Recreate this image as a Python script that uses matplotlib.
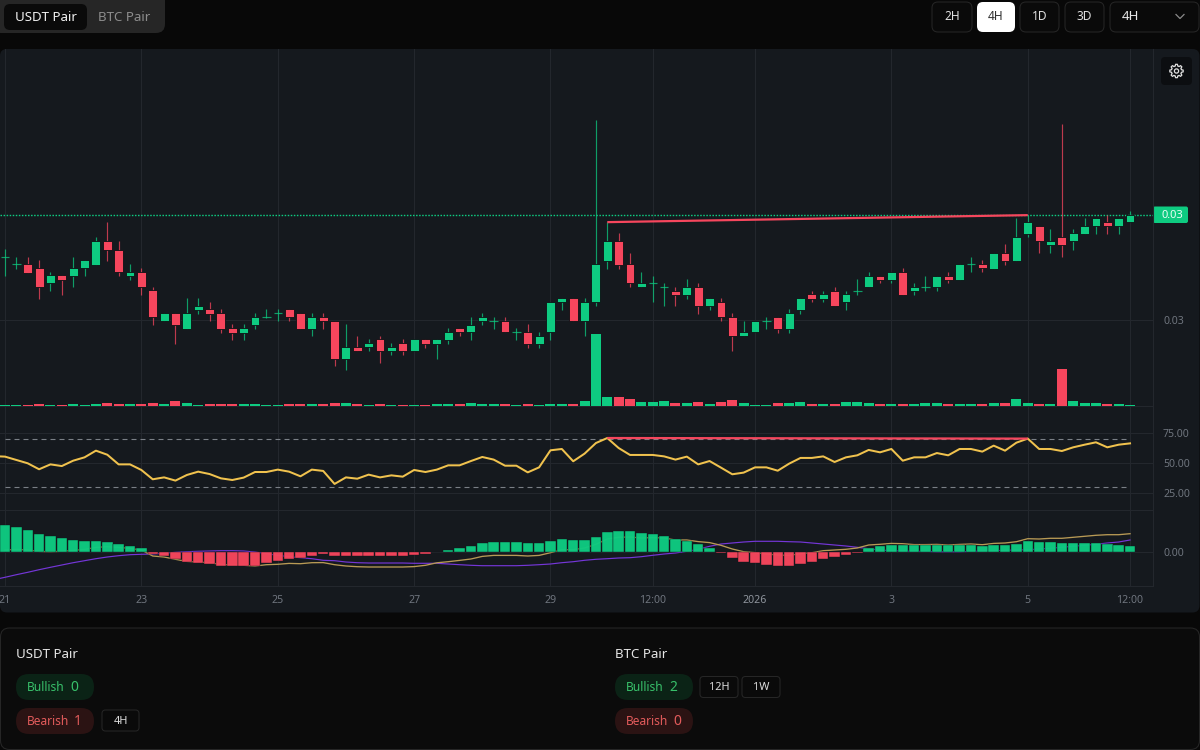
import numpy as np
import matplotlib
matplotlib.use("Agg")
import matplotlib.pyplot as plt
from matplotlib.patches import FancyBboxPatch, Circle, Polygon

# ---- price candles, units of 1e-5 ----
opens = [3063,3056,3056,3052,3037,3045,3044,3052,3055,3079,3070,3044,3048,3030,2999,3007,2991,3010,3011,3007,
         2992,2987,2995,3003,3007,3011,3007,2991,3003,2999,2961,2973,2973,2981,2969,2977,2969,2981,2976,2980,
         2992,2988,2999,2999,2999,2988,2988,2976,2988,3018,3022,2999,3018,3059,3079,3056,3033,3037,3033,3029,
         3025,3033,3014,3018,3003,2984,2988,2999,3003,2991,3010,3026,3021,3029,3018,3029,3033,3044,3040,3048,
         3029,3033,3033,3044,3040,3056,3056,3051,3067,3059,3086,3094,3075,3083,3079,3086,3094,3098,3094,3098]
highs = [3071,3063,3063,3060,3048,3045,3063,3060,3083,3098,3079,3056,3052,3033,3007,3007,3022,3022,3018,3011,
         2996,2996,3007,3011,3011,3011,3007,3007,3007,2999,2996,2984,2981,2984,2977,2981,2981,2981,2981,2992,
         2992,3003,3007,3003,3003,2992,2996,2988,3018,3022,3022,3022,3200,3098,3087,3067,3048,3044,3037,3033,
         3041,3037,3022,3022,3007,2999,2999,3003,3003,3011,3022,3029,3029,3033,3029,3041,3048,3044,3048,3052,
         3037,3044,3044,3048,3056,3063,3060,3067,3076,3102,3105,3094,3091,3196,3091,3102,3102,3105,3102,3109]
lows  = [3044,3051,3047,3021,3029,3025,3033,3044,3055,3059,3044,3040,3025,2995,2999,2976,2991,3006,2999,2987,
         2980,2980,2991,3002,2999,2999,2991,2984,2991,2954,2950,2969,2969,2957,2965,2965,2969,2972,2961,2976,
         2984,2980,2995,2991,2988,2980,2972,2972,2980,3010,2999,2984,3014,3051,3051,3033,3033,3018,3014,3014,
         3021,3006,3010,2999,2969,2984,2988,2991,2987,2987,3006,3018,3018,3014,3010,3025,3033,3037,3037,3025,
         3025,3029,3029,3037,3040,3048,3048,3051,3055,3059,3083,3067,3067,3063,3070,3086,3086,3086,3086,3098]
closes = [3063,3056,3047,3033,3045,3040,3052,3060,3079,3070,3048,3048,3033,3003,3007,2995,3007,3014,3006,2991,
          2987,2992,3003,3003,3007,3003,2991,3003,2999,2961,2973,2969,2977,2969,2973,2969,2981,2976,2981,2988,
          2988,2995,3003,2999,2988,2988,2976,2984,3018,3022,2999,3018,3056,3079,3055,3037,3037,3037,3033,3025,
          3033,3014,3022,3003,2984,2988,2999,2999,2991,3007,3022,3021,3026,3014,3026,3029,3044,3040,3048,3025,
          3033,3033,3044,3040,3056,3056,3052,3067,3059,3083,3098,3079,3079,3075,3087,3094,3102,3094,3102,3105]
volumes = [1,1,1,2,1,1,2,1,2,3,2,2,2,3,2,5,3,1,2,2,2,2,2,1,1,2,2,2,2,3,3,2,1,2,1,1,1,1,2,2,2,3,2,2,2,1,2,1,2,2,2,5,
           72,9,9,7,4,4,5,3,3,4,2,4,6,3,1,1,3,3,4,2,2,2,4,4,3,2,2,2,2,3,3,2,2,2,2,3,3,7,3,2,2,37,5,3,3,2,2,1]
rsi_before = 55.6
rsi = [55.2,52.4,49.6,44.6,48.7,47.3,51.8,54.6,60.2,56.8,48.7,48.7,44.0,36.2,37.8,35.1,39.8,42.6,40.6,37.0,
       35.6,37.6,42.3,42.3,44.3,42.6,38.7,44.3,43.2,32.3,37.8,36.7,40.1,37.8,39.5,38.4,44.0,42.3,44.3,47.9,
       47.9,51.5,54.9,52.7,47.6,47.6,42.0,46.2,60.5,61.6,51.3,57.7,66.6,70.8,62.4,56.6,56.6,56.6,55.4,52.7,
       55.2,48.7,51.5,46.0,40.4,41.8,46.2,46.2,43.4,49.3,54.1,54.1,55.4,50.7,54.6,56.3,60.8,58.8,61.6,51.8,
       54.6,54.6,58.2,56.3,61.6,61.6,59.4,64.4,60.2,66.9,70.3,61.6,61.6,59.9,63.0,65.2,67.2,63.0,65.2,66.3]
hist = [27.3,25.3,22.3,18.3,15.7,13.7,12.3,11.3,11.3,10.3,8.3,6.3,4.3,-2,-3.7,-7,-9.7,-10.7,-11.7,-13.7,
        -14.3,-14.3,-14,-11,-9,-6.7,-6,-4,-2.3,-4,-4,-4,-4,-4,-4,-4,-3.3,-2,0.5,2.3,
        4.3,6.3,9.3,10.3,10.3,10.3,9.3,9.3,11.3,13,12,12.3,15,19.7,20.7,20.7,18.7,17.7,16,13,
        11.3,7.7,3.7,-1.3,-6,-9.7,-11.3,-12.7,-13.7,-13.7,-11.7,-9.7,-6.7,-5,-3.3,-0.7,3.7,5.7,7.3,7.3,
        6.7,6.7,7.3,6.7,7.3,7.3,6.3,7.3,7.3,8.3,11,10,10,9,9,9,9,8.3,7.3,6.3]
signal_before = -27.7
signal = [-25.3,-22.7,-20.3,-17.7,-15.3,-13,-10.7,-8.7,-6.7,-5,-3.7,-2.7,-2.3,-2,-1.3,-0.3,0.3,0.7,1,1.3,
          1.3,1,0,-1.7,-3.3,-4.7,-5.7,-6.7,-8.3,-8.7,-10,-10.7,-11,-11,-11,-11,-11.3,-11.3,-11.3,-12,
          -12.7,-13.3,-13.7,-13.7,-13.7,-13.7,-13.3,-12.7,-12,-10.7,-9.7,-8.3,-7.3,-6.7,-6,-5.7,-4.7,-3.3,-2,-1,
          0.7,2.7,5.7,8,9,10,10.7,10.7,10.7,10.3,10,9,8,7,6,4.7,3.3,2,1.3,1,
          0.7,0.7,0.3,0.3,0.3,0.7,1,1.3,1.7,2,2.3,3,3.7,4.7,5.7,6.7,7.7,9,10,12]
macd = [2,2.6,2,0.6,0.4,0.7,1.6,2.6,4.6,5.3,4.6,3.6,2,-4,-5,-7.3,-9.4,-10,-10.7,-12.4,
        -13,-13.3,-14,-12.7,-12.3,-11.4,-11.7,-10.7,-10.6,-12.7,-14,-14.7,-15,-15,-15,-15,-14.6,-13.3,-10.8,-9.7,
        -8.4,-7,-4.4,-3.4,-3.4,-3.4,-4,-3.4,-0.7,2.3,2.3,4,7.7,13,14.7,15,14,14.4,14,12,
        12,10.4,9.4,6.7,3,0.3,-0.6,-2,-3,-3.4,-1.7,-0.7,1.3,2,2.7,4,7,7.7,8.6,8.3,
        7.4,7.4,7.6,7,7.6,8,7.3,8.6,9,10.3,13.3,13,13.7,13.7,14.7,15.7,16.7,17.3,17.3,18.3]
time_ticks = [0,12,24,36,48,57,66,78,90,99]
time_labels = ['21','23','25','27','29','12:00','2026','3','5','12:00']
last_price = 3105.4
price_ticks = [3000]
rsi_ticks = [25,50,75]
rsi_bands = [70,30]
div_bar_a, div_bar_b = 53, 90

GREEN = '#0ecb81'; RED = '#f6465d'; GOLD = '#f0c24e'; PURPLE = '#7436d8'
MACDGOLD = '#b89a55'
BG = '#080808'; CHART = '#15191e'; GRID = '#23272d'; TICK = '#6f757e'; BORDER = '#262626'
FONT = ['Noto Sans', 'DejaVu Sans']
plt.rcParams['font.family'] = FONT

fig = plt.figure(figsize=(12, 7.5), dpi=100, facecolor=BG)
W, H = 1200, 750

def axes_px(x0, y0, x1, y1, **kw):
    return fig.add_axes([x0/W, 1-y1/H, (x1-x0)/W, (y1-y0)/H], **kw)

# chrome layer in pixel coordinates
ui = fig.add_axes([0, 0, 1, 1], zorder=0)
ui.set_xlim(0, W); ui.set_ylim(H, 0); ui.axis('off')

def box(x0, y0, x1, y1, face, edge='none', r=6, lw=0.75, z=1):
    ui.add_patch(FancyBboxPatch((x0, y0), x1-x0, y1-y0, boxstyle=f'round,pad=0,rounding_size={r}',
                                fc=face, ec=edge, lw=lw, zorder=z, mutation_aspect=1))

def label(x, y, s, color='#e5e5e5', size=9.4, ha='center', **kw):
    ui.text(x, y+1, s, color=color, fontsize=size, ha=ha, va='center', zorder=5, **kw)

# top left toggle
box(-8, -10, 165, 33, '#262626', r=9)
box(4, 4, 87, 30, '#0a0a0a', r=6, z=2)
label(45.5, 16.5, 'USDT Pair', '#f0f0f0', 9.6)
label(124.5, 16.5, 'BTC Pair', '#8c8c8c', 9.6)
# top right buttons
for x0, x1, s in [(932, 972, '2H'), (1020, 1059, '1D'), (1065, 1104, '3D')]:
    box(x0, 2, x1, 32, '#0a0a0a', BORDER, r=6)
    label((x0+x1)/2, 16, s, '#e0e0e0', 8.6)
box(977, 2, 1015, 32, '#ffffff', r=6)
label(996, 16, '4H', '#303030', 8.6)
box(1110, 2, 1199, 32, '#0a0a0a', BORDER, r=6)
label(1122, 16, '4H', '#e8e8e8', 9.6, ha='left')
ui.plot([1176, 1180, 1184], [14.5, 18.5, 14.5], color='#8a8a8a', lw=0.9, zorder=5)

# chart card
box(0, 49, 1199.5, 612.5, CHART, r=7)

# bottom card
box(0.5, 628, 1199.5, 749.5, '#0b0b0b', BORDER, r=9)
def pill(x0, y0, word, value, vx, face, color):
    box(x0, y0, x0+78, y0+26, face, r=13)
    label(x0+11, y0+12.5, word, color, 8.6, ha='left')
    label(x0+vx, y0+12.5, value, color, 10, ha='center')
def chip(x0, x1, y0, s):
    box(x0, y0, x1, y0+21, '#0a0a0a', BORDER, r=3.5)
    label((x0+x1)/2, y0+10, s, '#dcdcdc', 7.9)
label(16, 653.5, 'USDT Pair', '#e5e5e5', 9.6, ha='left')
label(615, 653.5, 'BTC Pair', '#e5e5e5', 9.6, ha='left')
BULL_TXT = '#38c06a'; BEAR_TXT = '#e25b5b'
pill(16, 674, 'Bullish', '0', 58, '#0b2316', BULL_TXT)
pill(16, 708, 'Bearish', '1', 62, '#2b1313', BEAR_TXT)
chip(102, 139, 710, '4H')
pill(615, 674, 'Bullish', '2', 58, '#0b2316', BULL_TXT)
pill(615, 708, 'Bearish', '0', 62, '#2b1313', BEAR_TXT)
chip(700, 738, 676.5, '12H')
chip(742, 780, 676.5, '1W')

# data panels
PX0, PX1 = 0, 1153.3
x_lim = ((PX0-5)/11.364, (PX1-5)/11.364)
idx = np.arange(100)
o, h, l, c = map(np.array, (opens, highs, lows, closes))
up = c >= o
colors = np.where(up, GREEN, RED)

def panel(y0, y1, ylim, z=2):
    ax = axes_px(PX0, y0, PX1, y1, zorder=z)
    ax.patch.set_visible(False)
    ax.set_xlim(*x_lim); ax.set_ylim(*ylim)
    ax.set_xticks(time_ticks)
    ax.grid(True, color=GRID, lw=0.8, zorder=0)
    ax.set_axisbelow(True)
    for s in ('top', 'left'):
        ax.spines[s].set_visible(False)
    for s in ('right', 'bottom'):
        ax.spines[s].set_color(GRID); ax.spines[s].set_linewidth(0.8)
    ax.yaxis.tick_right()
    ax.tick_params(axis='both', length=0, labelcolor=TICK, labelsize=7.6, pad=7)
    ax.tick_params(axis='x', labelbottom=False)
    return ax

ax = panel(49, 406.3, (2914, 3271))
ax.set_yticks(price_ticks)
ax.set_yticklabels([f'{v*1e-5:.2f}' for v in price_ticks])

# volume overlay
vol = axes_px(PX0, 49, PX1, 406.3, zorder=2.5)
vol.patch.set_visible(False); vol.axis('off')
vol.set_xlim(*x_lim); vol.set_ylim(0, 357.3)
vol.bar(idx, volumes, width=0.88, color=colors, linewidth=0)

ax.plot(x_lim, [last_price, last_price], color=GREEN, lw=1.0, ls=(0, (1.1, 1.1)), zorder=1, dash_capstyle='butt')
ax.vlines(idx, l, h, colors=colors, lw=0.85, alpha=0.75, zorder=2)
real = o != c
ax.bar(idx[real], np.abs(c-o)[real], bottom=np.minimum(o, c)[real], width=0.78, color=colors[real],
       edgecolor='#0d1014', linewidth=0.6, zorder=3)
ax.hlines(c[~real], idx[~real]-0.37, idx[~real]+0.37, colors=colors[~real], lw=0.85, alpha=0.75, zorder=3)
ax.plot([div_bar_a, div_bar_b], [h[div_bar_a], h[div_bar_b]], color=RED, lw=1.6, zorder=4,
        solid_capstyle='butt')

# price tag
ui.add_patch(FancyBboxPatch((1153, 206.5), 35, 16.5, boxstyle='round,pad=0,rounding_size=2', fc=GREEN, ec='none', zorder=6))
ui.text(1172.5, 215, f'{last_price*1e-5:.2f}', color='#eafff6', fontsize=8, ha='center', va='center', zorder=7)

# RSI
rx = panel(406.8, 509.5, (75-(509.5-433)/1.193, 75+(433-406.8)/1.193))
rx.set_yticks(rsi_ticks)
rx.set_yticklabels([f'{v:.2f}' for v in rsi_ticks])
for b in rsi_bands:
    rx.plot([idx[0], idx[-1]], [b, b], color='#7a7f86', lw=0.8, ls=(0, (4.5, 3.6)), zorder=1)
rx.plot(np.r_[-1, idx], np.r_[rsi_before, rsi], color=GOLD, lw=1.45, zorder=3, solid_joinstyle='round')
rx.plot([div_bar_a, div_bar_b], [rsi[div_bar_a], rsi[div_bar_b]], color=RED, lw=1.6, zorder=4,
        solid_capstyle='butt')

# MACD
mx = panel(509.5, 586.3, (-34.3, 42.5))
mx.set_yticks([0]); mx.set_yticklabels(['0.00'])
mx.tick_params(axis='x', labelbottom=True, pad=6)
mx.set_xticklabels(time_labels)
for t in mx.get_xticklabels():
    if t.get_text() == '2026':
        t.set_fontweight('bold'); t.set_color('#8f959d')
mx.plot(np.r_[-1, idx], np.r_[signal_before, signal], color=PURPLE, lw=0.85, zorder=2)
mx.plot(idx, macd, color=MACDGOLD, lw=0.95, zorder=2)
hv = np.array(hist)
mx.bar(idx, hv, width=0.92, color=np.where(hv >= 0, GREEN, RED), edgecolor='#10141a', linewidth=0.3, alpha=0.97, zorder=3)

# settings button
gear = fig.add_axes([0, 0, 1, 1], zorder=4)
gear.set_xlim(0, W); gear.set_ylim(H, 0); gear.axis('off'); gear.patch.set_visible(False)
gear.add_patch(FancyBboxPatch((1161, 57), 31, 28, boxstyle='round,pad=0,rounding_size=4', fc='#0c0e11', ec='none'))
ang = np.linspace(0, 2*np.pi, 48, endpoint=False)
rad = 5.1 + 1.6*(np.cos(8*ang) > -0.1)
gear.add_patch(Polygon(np.c_[1176.5+rad*np.cos(ang), 71+rad*np.sin(ang)], closed=True, fc='none', ec='#e0e0e0', lw=0.9))
gear.add_patch(Circle((1176.5, 71), 2.1, fc='none', ec='#e0e0e0', lw=0.9))

fig.savefig('out.png', dpi=100, facecolor=fig.get_facecolor())
